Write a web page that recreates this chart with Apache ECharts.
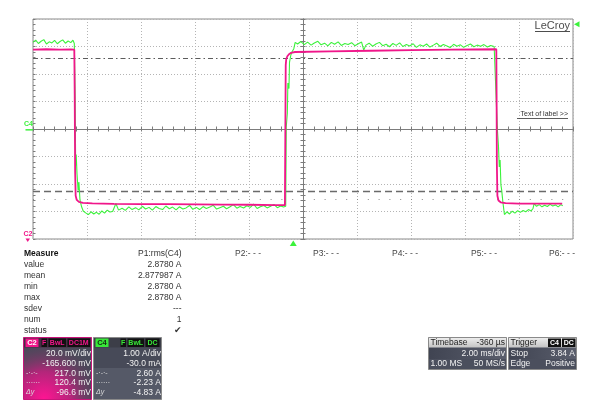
<!DOCTYPE html>
<html>
<head>
<meta charset="utf-8">
<script src="https://cdn.jsdelivr.net/npm/echarts@6/dist/echarts.min.js"></script>
<style>
html, body { margin: 0; padding: 0; background: #fff; }
#scope { width: 600px; height: 411px; }
</style>
</head>
<body>
<div id="scope"></div>
<script>
// channel settings
const c2Scale = 20;        // mV/div
const c2Offset = -165.6;   // mV
const c4Scale = 1;         // A/div
const c4Offset = -0.03;    // A
const trigDelay = -0.36;   // ms, trigger point vs screen centre
const trigLevel = 3.84;    // A
const c2Cursors = [217.0, 120.4]; // mV
const dotRowDiv = -2.535;

// [ms from screen centre, A]
const c4Trace = [
  [-10.00, 3.18], [-9.90, 3.26], [-9.80, 3.14], [-9.70, 3.22], [-9.60, 3.28], [-9.50, 3.12],
  [-9.40, 3.20], [-9.30, 3.16], [-9.20, 3.25], [-9.10, 3.13], [-9.00, 3.21], [-8.90, 3.27],
  [-8.80, 3.15], [-8.70, 3.23], [-8.60, 3.17], [-8.52, 3.26], [-8.47, 3.14],
  [-8.44, 1.2], [-8.42, -1.3], [-8.40, -0.9], [-8.37, -1.6], [-8.33, -2.2], [-8.30, -1.9],
  [-8.26, -2.55], [-8.20, -2.8], [-8.14, -2.95],
  [-8.05, -3.02], [-7.95, -3.08], [-7.85, -2.98], [-7.75, -3.06], [-7.65, -3.00], [-7.55, -3.07],
  [-7.45, -2.95], [-7.35, -3.03], [-7.25, -2.92], [-7.15, -2.99], [-7.05, -2.97], [-6.93, -2.68],
  [-6.83, -2.92], [-6.70, -2.85], [-6.58, -2.93], [-6.45, -2.80], [-6.33, -2.90], [-6.20, -2.83],
  [-6.08, -2.91], [-5.95, -2.78], [-5.83, -2.88], [-5.70, -2.82], [-5.58, -2.92], [-5.45, -2.79],
  [-5.33, -2.86], [-5.20, -2.90], [-5.08, -2.77], [-4.95, -2.87], [-4.83, -2.81], [-4.70, -2.91],
  [-4.58, -2.80], [-4.45, -2.88], [-4.33, -2.84], [-4.20, -2.75], [-4.08, -2.89], [-3.95, -2.82],
  [-3.83, -2.90], [-3.70, -2.79], [-3.58, -2.86], [-3.45, -2.81], [-3.33, -2.74], [-3.20, -2.88],
  [-3.08, -2.83], [-2.95, -2.78], [-2.83, -2.87], [-2.70, -2.80], [-2.58, -2.72], [-2.45, -2.85],
  [-2.33, -2.79], [-2.20, -2.84], [-2.08, -2.76], [-1.95, -2.82], [-1.83, -2.70], [-1.70, -2.86],
  [-1.58, -2.80], [-1.45, -2.75], [-1.33, -2.84], [-1.20, -2.78], [-1.08, -2.71], [-0.95, -2.83],
  [-0.83, -2.77], [-0.72, -2.81],
  [-0.64, -2.78], [-0.62, 0.1], [-0.58, 0.6], [-0.56, 1.7], [-0.52, 1.5], [-0.50, 2.45],
  [-0.45, 2.72], [-0.40, 2.85], [-0.34, 2.95], [-0.29, 3.18],
  [-0.20, 3.12], [-0.08, 3.21], [0.05, 3.10], [0.17, 3.19], [0.30, 3.08], [0.42, 3.16],
  [0.55, 3.22], [0.67, 3.09], [0.80, 3.15], [0.92, 3.05], [1.05, 3.18], [1.17, 3.11],
  [1.30, 3.20], [1.42, 3.07], [1.55, 3.14], [1.67, 3.10], [1.80, 3.17], [1.92, 3.06],
  [2.05, 3.13], [2.17, 3.19], [2.25, 2.90], [2.33, 3.08], [2.45, 3.15], [2.58, 3.04],
  [2.70, 3.12], [2.83, 3.18], [2.95, 3.06], [3.08, 3.11], [3.20, 3.02], [3.33, 3.14],
  [3.45, 3.07], [3.58, 3.16], [3.70, 3.03], [3.83, 3.10], [3.95, 3.05], [4.08, 3.13],
  [4.20, 3.00], [4.33, 3.09], [4.45, 3.04], [4.58, 3.12], [4.70, 3.01], [4.83, 3.08],
  [4.95, 3.15], [5.08, 3.03], [5.20, 3.10], [5.33, 3.05], [5.45, 2.99], [5.58, 3.11],
  [5.70, 3.04], [5.83, 3.09], [5.95, 3.00], [6.08, 3.07], [6.20, 3.12], [6.33, 3.02],
  [6.45, 3.08], [6.58, 3.04], [6.70, 3.10], [6.83, 3.01], [6.95, 3.07], [7.08, 3.03], [7.15, 3.06],
  [7.20, 0.0], [7.24, -0.6], [7.27, -1.35], [7.30, -1.1], [7.33, -2.0], [7.36, -2.2],
  [7.40, -2.6], [7.46, -3.08],
  [7.55, -2.98], [7.65, -3.06], [7.75, -2.96], [7.85, -3.03], [7.95, -2.94], [8.05, -3.00],
  [8.15, -2.93], [8.25, -2.98], [8.35, -2.90], [8.45, -2.95], [8.52, -2.86], [8.56, -2.68],
  [8.65, -2.78], [8.75, -2.72], [8.85, -2.80], [8.95, -2.74], [9.05, -2.79], [9.15, -2.71],
  [9.25, -2.77], [9.35, -2.73], [9.45, -2.80], [9.55, -2.72], [9.62, -2.76]
];

// [ms from screen centre, mV]
const c2Trace = [
  [-10.00, 223.4], [-9.50, 223.6], [-9.00, 223.3], [-8.60, 223.5], [-8.47, 223.3],
  [-8.455, 190], [-8.44, 135], [-8.42, 117], [-8.38, 114.0], [-8.30, 112.6], [-8.15, 111.8],
  [-7.80, 111.5], [-7.00, 111.2], [-6.00, 111.0], [-5.00, 110.9], [-4.00, 110.8],
  [-3.00, 110.6], [-2.00, 110.5], [-1.00, 110.3], [-0.67, 110.3],
  [-0.655, 160], [-0.64, 212], [-0.62, 216.5], [-0.58, 218.5], [-0.52, 220], [-0.44, 221],
  [-0.30, 221.6], [1.00, 222.0], [2.50, 222.5], [4.00, 223.0], [5.50, 223.3], [7.16, 223.6],
  [7.17, 190], [7.18, 140], [7.20, 117], [7.24, 113.6], [7.32, 112.3], [7.50, 111.7],
  [8.00, 111.4], [9.00, 111.3], [9.60, 111.3]
];

const measureRows = ['Measure', 'value', 'mean', 'min', 'max', 'sdev', 'num', 'status'];
const p1Values = ['P1:rms(C4)', '2.8780 A', '2.877987 A', '2.8780 A', '2.8780 A', '---', '1', '\u2714'];
const otherParams = ['P2:- - -', 'P3:- - -', 'P4:- - -', 'P5:- - -', 'P6:- - -'];
const c2Panel = ['20.0 mV/div', '-165.600 mV', '217.0 mV', '120.4 mV', '-96.6 mV'];
const c4Panel = ['1.00 A/div', '-30.0 mA', '2.60 A', '-2.23 A', '-4.83 A'];
const panelMarks = ['', '', '-\u00b7-\u00b7-', '\u00b7\u00b7\u00b7\u00b7\u00b7\u00b7', '\u0394y'];
const c2Tags = ['F', 'BwL', 'DC1M'];
const c4Tags = ['F', 'BwL', 'DC'];
const timebaseRows = [['Timebase', '-360 \u00b5s'], ['', '2.00 ms/div'], ['1.00 MS', '50 MS/s']];
const triggerRows = [['Trigger', ''], ['Stop', '3.84 A'], ['Edge', 'Positive']];

const FONT = '"Liberation Sans", Arial, "DejaVu Sans", sans-serif';
const gridCol = '#b4b4b4';
const axisCol = '#7c7c7c';
const green = '#3cf23c';
const pink = '#f0168a';

const chart = echarts.init(document.getElementById('scope'), null, {renderer: 'canvas'});

function centreAxis(inside, withSplit, extra) {
  return Object.assign({
    type: 'value',
    axisLine: {show: true, onZero: true, onZeroAxisIndex: 0, lineStyle: {color: axisCol, width: 1}},
    axisTick: {show: true, inside: inside, length: 2.5, lineStyle: {color: axisCol}},
    minorTick: {show: true, splitNumber: 5, length: 2.5, lineStyle: {color: axisCol}},
    axisLabel: {show: false},
    splitLine: {show: withSplit, lineStyle: {color: gridCol, type: [1, 2]}}
  }, extra);
}

chart.setOption({
  animation: false,
  backgroundColor: '#fff',
  grid: {left: 33, top: 19, width: 540, height: 220, show: true, borderColor: '#8a8a8a',
         borderWidth: 1, backgroundColor: '#fff', containLabel: false, outerBoundsMode: 'none'},
  xAxis: [
    centreAxis(true, true, {min: -10, max: 10, interval: 2, position: 'bottom'}),
    centreAxis(false, false, {min: -10, max: 10, interval: 2, position: 'bottom'})
  ],
  yAxis: [
    centreAxis(true, true, {min: -4, max: 4, interval: 1, position: 'left'}),
    centreAxis(false, false, {min: -4, max: 4, interval: 1, position: 'left'}),
    {
      type: 'value', min: -4, max: 4, interval: 1, position: 'left',
      axisLine: {show: false, onZero: false},
      axisTick: {show: true, inside: true, length: 2.5, lineStyle: {color: axisCol}},
      minorTick: {show: true, splitNumber: 5, length: 2.5, lineStyle: {color: axisCol}},
      axisLabel: {show: false}, splitLine: {show: false}
    }
  ],
  series: [
    {
      name: 'C4', type: 'line', xAxisIndex: 0, yAxisIndex: 0, z: 3,
      data: c4Trace.map(p => [p[0], (p[1] + c4Offset) / c4Scale]),
      symbol: 'none', lineStyle: {color: green, width: 1.1},
      markLine: {
        silent: true, symbol: ['none', 'none'], label: {show: false}, z: 2,
        data: [
          {yAxis: (c2Cursors[0] + c2Offset) / c2Scale, lineStyle: {type: [5, 3, 1.5, 3], color: '#5c5c5c', width: 1.2}},
          {yAxis: (c2Cursors[1] + c2Offset) / c2Scale, lineStyle: {type: [7, 4], color: '#6a6a6a', width: 1.4}},
          {yAxis: dotRowDiv, lineStyle: {type: [1, 9.8], color: '#8a8a8a', width: 1}}
        ]
      }
    },
    {
      name: 'C2', type: 'line', xAxisIndex: 0, yAxisIndex: 0, z: 4,
      data: c2Trace.map(p => [p[0], (p[1] + c2Offset) / c2Scale]),
      symbol: 'none', lineStyle: {color: pink, width: 1.8}
    }
  ]
});

// screen furniture
const g = [];
function txt(x, y, s, size, fill, align, weight, style) {
  g.push({type: 'text', silent: true, z: 20, style: {
    x: x, y: y, text: s, fill: fill,
    font: (style || 'normal') + ' ' + (weight || 'normal') + ' ' + size + 'px ' + FONT,
    textAlign: align || 'left', textVerticalAlign: 'middle'
  }});
}
function rect(x, y, w, h, fill, stroke) {
  g.push({type: 'rect', silent: true, z: 10, shape: {x: x, y: y, width: w, height: h},
          style: {fill: fill, stroke: stroke || null, lineWidth: 1}});
}
function line(x1, y1, x2, y2, stroke, w) {
  g.push({type: 'line', silent: true, z: 15, shape: {x1: x1, y1: y1, x2: x2, y2: y2},
          style: {stroke: stroke, lineWidth: w || 1}});
}
function tri(points, fill) {
  g.push({type: 'polygon', silent: true, z: 15, shape: {points: points}, style: {fill: fill}});
}

const c4Zero = chart.convertToPixel({yAxisIndex: 0}, (0 + c4Offset) / c4Scale);
const trigY = chart.convertToPixel({yAxisIndex: 0}, (trigLevel + c4Offset) / c4Scale);
const trigX = chart.convertToPixel({xAxisIndex: 0}, trigDelay);

// channel markers
txt(28.5, c4Zero - 5.5, 'C4', 7, green, 'center', 'bold');
line(25.5, c4Zero, 33, c4Zero, green, 1.5);
txt(28, 234, 'C2', 7, pink, 'center', 'bold');
tri([[25.5, 238.5], [30, 238.5], [27.75, 242]], pink);
tri([[574, trigY], [579.5, trigY - 3], [579.5, trigY + 3]], green);
tri([[trigX, 240.5], [trigX - 3.5, 246], [trigX + 3.5, 246]], green);

// labels on the grid
txt(570, 26, 'LeCroy', 11, '#4d4d4d', 'right');
line(535, 31.5, 570, 31.5, '#4d4d4d', 1);
txt(568, 114.5, 'Text of label >>', 7, '#333', 'right');
line(517, 118.5, 568, 118.5, '#333', 0.8);

// measurement table
measureRows.forEach((s, i) => {
  const y = 253.3 + i * 11.1;
  txt(24, y, s, 8.5, i === 0 ? '#111' : '#333', 'left', i === 0 ? 'bold' : 'normal');
  txt(181.5, y, p1Values[i], i === 7 ? 9 : 8.5, '#333', 'right');
});
[235, 313, 392, 471, 549].forEach((x, i) => txt(x, 253.3, otherParams[i], 8.5, '#444'));

// channel boxes
const rowY = [354, 364, 373.5, 383, 392.5];
function channelBox(x0, label, tags, tagX, rows, colour, isPink) {
  rect(x0, 337.5, 68, 62, '#474a58', isPink ? '#c8157a' : '#8a8a8a');
  if (isPink) {
    rect(x0 + 0.5, 338, 67, 61, new echarts.graphic.RadialGradient(0.3, 1.0, 1.0, [
      {offset: 0, color: '#ff1493'}, {offset: 0.45, color: '#b3267a'}, {offset: 1, color: 'rgba(71,74,88,0)'}
    ]));
  } else {
    rect(x0 + 0.5, 368, 67, 31, '#555967');
  }
  rect(x0 + 0.5, 338, 67, 9.5, isPink ? 'rgba(70,40,66,0.85)' : '#3c3e48');
  rect(x0 + 2, 338.5, 13, 8.5, colour);
  txt(x0 + 8.5, 343, label, 7.5, isPink ? '#fff' : '#103010', 'center', 'bold');
  tags.forEach((t, i) => {
    rect(tagX[i][0], 338.5, tagX[i][1], 8.5, '#111');
    txt(tagX[i][0] + tagX[i][1] / 2, 343, t, 7, colour, 'center', 'bold');
  });
  rows.forEach((s, i) => {
    txt(x0 + 67.5, rowY[i], s, 8.5, '#f2f2f2', 'right');
    if (panelMarks[i]) {
      txt(x0 + 2.5, rowY[i], panelMarks[i], 7, '#dcdcdc', 'left', 'normal', i === 4 ? 'italic' : 'normal');
    }
  });
}
channelBox(23.5, 'C2', c2Tags, [[41.5, 5.5], [48.5, 17.5], [67.5, 22.5]], c2Panel, pink, true);
channelBox(93.5, 'C4', c4Tags, [[120.5, 5.5], [127.5, 16.5], [145.5, 14]], c4Panel, '#38e838', false);

// timebase and trigger boxes
function infoBox(x0, w, rows, tags) {
  rect(x0, 337.5, w, 32, '#4b4f5d', '#8a8a8a');
  rect(x0 + 0.5, 338, w - 1, 9.5, new echarts.graphic.LinearGradient(0, 0, 0, 1, [
    {offset: 0, color: '#ececec'}, {offset: 1, color: '#c4c4c4'}
  ]));
  rect(x0 + 0.5, 348, w - 1, 11, new echarts.graphic.LinearGradient(0, 0, 1, 0, [
    {offset: 0, color: '#404452'}, {offset: 1, color: '#5a5e6c'}
  ]));
  rows.forEach((r, i) => {
    const y = [343, 354, 364][i];
    const col = i === 0 ? '#222' : '#f2f2f2';
    if (r[0]) txt(x0 + 2, y, r[0], 8.5, col, 'left');
    if (r[1]) txt(x0 + w - 1.5, y, r[1], 8.5, col, 'right');
  });
  (tags || []).forEach(t => {
    rect(t[0], 338.5, t[1], 8.5, '#111');
    txt(t[0] + t[1] / 2, 343, t[2], 7, '#fff', 'center', 'bold');
  });
}
infoBox(428.5, 78, timebaseRows);
infoBox(508.5, 68, triggerRows, [[548, 13, 'C4'], [562, 13.5, 'DC']]);

chart.setOption({graphic: g});
</script>
</body>
</html>
